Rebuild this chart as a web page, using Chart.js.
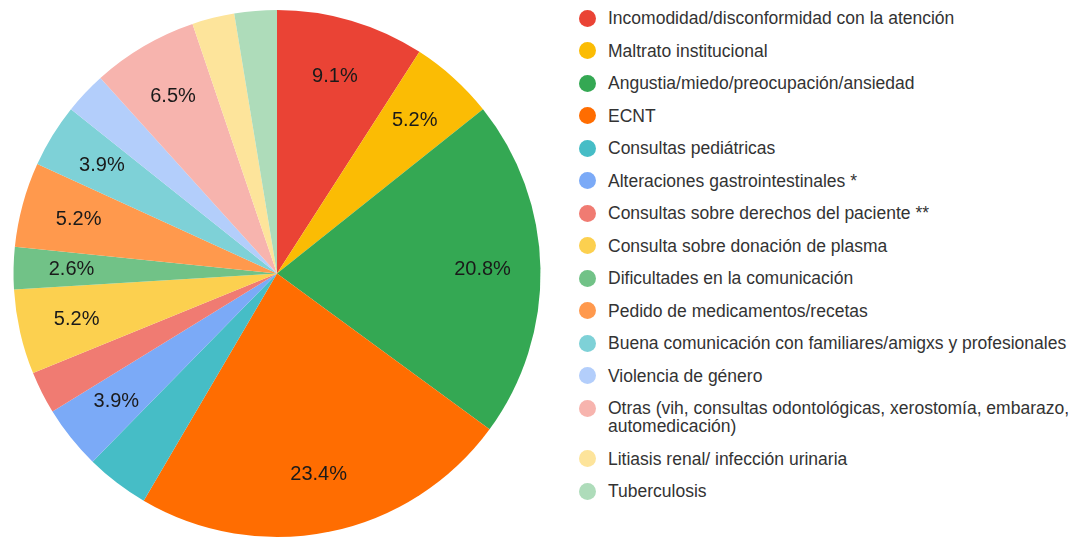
<!DOCTYPE html>
<html lang="es">
<head>
<meta charset="utf-8">
<script src="https://cdn.jsdelivr.net/npm/chart.js@4/dist/chart.umd.min.js"></script>
<style>
    html, body { margin: 0; padding: 0; background: #fff; }
    body { width: 1077px; height: 539px; position: relative; overflow: hidden; font-family: "Liberation Sans", Arial, sans-serif; }
    #pieContainer { position: absolute; left: 0; top: 0; width: 554px; height: 539px; }
    #leyenda { position: absolute; left: 578px; top: 9px; width: 520px; }
    .item { position: relative; padding-left: 30px; margin-bottom: 14.5px; font-size: 17.5px; line-height: 18px; color: #333; width: 472px; }
    .item .punto { position: absolute; left: 0.5px; top: 0.5px; width: 17px; height: 17px; border-radius: 50%; }
</style>
</head>
<body>
<div id="pieContainer"><canvas id="tortaMotivos"></canvas></div>
<div id="leyenda"></div>
<script>
// Motivos de consulta
const categorias = [
    'Incomodidad/disconformidad con la atención',
    'Maltrato institucional',
    'Angustia/miedo/preocupación/ansiedad',
    'ECNT',
    'Consultas pediátricas',
    'Alteraciones gastrointestinales *',
    'Consultas sobre derechos del paciente **',
    'Consulta sobre donación de plasma',
    'Dificultades en la comunicación',
    'Pedido de medicamentos/recetas',
    'Buena comunicación con familiares/amigxs y profesionales',
    'Violencia de género',
    'Otras (vih, consultas odontológicas, xerostomía, embarazo, automedicación)',
    'Litiasis renal/ infección urinaria',
    'Tuberculosis'
];
const porcentajes = [9.1, 5.2, 20.8, 23.4, 3.9, 3.9, 2.6, 5.2, 2.6, 5.2, 3.9, 2.6, 6.5, 2.6, 2.6];
const colores = [
    '#ea4335', '#fbbc04', '#34a853', '#ff6d01', '#46bdc6',
    '#7baaf7', '#f07b72', '#fcd04f', '#71c287', '#ff994d',
    '#7ed1d7', '#b3cefb', '#f7b4ae', '#fde49b', '#aedcba'
];
// porciones sin etiqueta en el original
const sinEtiqueta = [4, 6, 11, 13, 14];

Chart.defaults.font.family = '"Liberation Sans", Arial, sans-serif';

// Etiquetas de porcentaje dentro de cada porción
const etiquetasPlugin = {
    id: 'etiquetasPorcentaje',
    afterDatasetsDraw(chart) {
        const ctx = chart.ctx;
        const meta = chart.getDatasetMeta(0);
        ctx.save();
        ctx.font = '20px "Liberation Sans", Arial, sans-serif';
        ctx.fillStyle = '#1a1a1a';
        ctx.textAlign = 'center';
        ctx.textBaseline = 'middle';
        meta.data.forEach((arc, i) => {
            if (sinEtiqueta.includes(i)) return;
            const p = arc.getProps(['startAngle', 'endAngle', 'outerRadius', 'x', 'y'], true);
            const medio = (p.startAngle + p.endAngle) / 2;
            const r = p.outerRadius * 0.78;
            ctx.fillText(porcentajes[i].toFixed(1) + '%', p.x + Math.cos(medio) * r, p.y + Math.sin(medio) * r);
        });
        ctx.restore();
    }
};

new Chart(document.getElementById('tortaMotivos').getContext('2d'), {
    type: 'pie',
    data: {
        labels: categorias,
        datasets: [{
            data: porcentajes,
            backgroundColor: colores,
            borderWidth: 0
        }]
    },
    options: {
        responsive: true,
        maintainAspectRatio: false,
        animation: false,
        layout: { padding: { top: 10, bottom: 2, left: 0, right: 0 } },
        plugins: {
            legend: { display: false },
            tooltip: { enabled: false }
        }
    },
    plugins: [etiquetasPlugin]
});

// Leyenda a la derecha
const leyenda = document.getElementById('leyenda');
categorias.forEach((nombre, i) => {
    const item = document.createElement('div');
    item.className = 'item';
    const punto = document.createElement('span');
    punto.className = 'punto';
    punto.style.background = colores[i];
    item.appendChild(punto);
    item.appendChild(document.createTextNode(nombre));
    leyenda.appendChild(item);
});
</script>
</body>
</html>
